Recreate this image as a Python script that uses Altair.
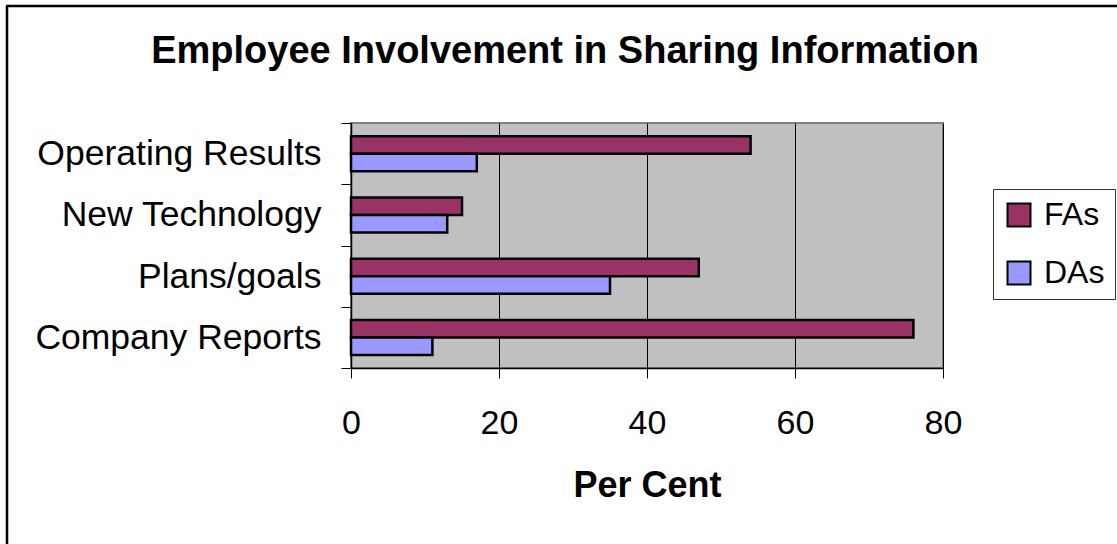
import altair as alt
import pandas as pd

categories = ["Operating Results", "New Technology", "Plans/goals", "Company Reports"]
series = ["FAs", "DAs"]
fa_values = [54, 15, 47, 76]
da_values = [17, 13, 35, 11]
x_ticks = [0, 20, 40, 60, 80]
chart_title = "Employee Involvement in Sharing Information"

rows = []
for c, fa, da in zip(categories, fa_values, da_values):
    rows.append({"category": c, "series": "FAs", "value": fa})
    rows.append({"category": c, "series": "DAs", "value": da})
df = pd.DataFrame(rows)

FONT = "Liberation Sans"

bars = alt.Chart(df).mark_bar(stroke="black", strokeWidth=2.5).encode(
    y=alt.Y("category:N", sort=categories,
            scale=alt.Scale(paddingInner=0, paddingOuter=0),
            axis=alt.Axis(title=None, tickBand="extent", labelFontSize=35.5, labelFont=FONT,
                          labelColor="black", labelPadding=20, tickSize=10, tickColor="black",
                          domainColor="black", domainWidth=1.5, labelLimit=400)),
    yOffset=alt.YOffset("series:N", sort=series,
                        scale=alt.Scale(paddingInner=0, paddingOuter=0.75)),
    x=alt.X("value:Q", scale=alt.Scale(domain=[0, 80], nice=False),
            axis=alt.Axis(title="Per Cent", values=x_ticks, labelFontSize=34, labelFont=FONT,
                          labelColor="black", labelPadding=28, tickSize=10, tickColor="black",
                          domainColor="black", domainWidth=1.5,
                          grid=True, gridColor="black", gridWidth=1,
                          titleFont=FONT, titleFontSize=36, titleFontWeight="bold",
                          titleColor="black", titlePadding=28, labelFlush=False)),
    color=alt.Color("series:N", sort=series,
                    scale=alt.Scale(domain=series, range=["#993366", "#9999FF"]),
                    legend=alt.Legend(title=None, orient="none", legendX=642, legendY=66,
                                      symbolType="square", symbolSize=529,
                                      symbolStrokeColor="black", symbolStrokeWidth=2,
                                      symbolOpacity=1,
                                      labelFont=FONT, labelFontSize=32, labelColor="black",
                                      labelOffset=9, padding=10, rowPadding=26,
                                      strokeColor="#333333", fillColor="white")),
)

one = alt.Data(values=[{}])
title_mark = alt.Chart(one).mark_text(
    text=chart_title, font=FONT, fontSize=38, fontWeight="bold", color="black",
    align="center", baseline="alphabetic").encode(x=alt.value(214), y=alt.value(-60))

frame_left = alt.Chart(one).mark_rule(color="black", strokeWidth=2.5).encode(
    x=alt.value(-344), y=alt.value(-117), y2=alt.value(430))
frame_top = alt.Chart(one).mark_rule(color="black", strokeWidth=2.5).encode(
    x=alt.value(-345), x2=alt.value(780), y=alt.value(-117))

chart = alt.layer(bars, title_mark, frame_left, frame_top).properties(
    width=592, height=245,
    padding={"left": 351, "top": 123, "right": 174, "bottom": 176},
    autosize=alt.AutoSizeParams(type="none"),
    background="white",
).configure_view(fill="#C0C0C0", stroke="#808080", strokeWidth=2)

chart.save("out.html", embed_options={"renderer": "svg", "actions": False})
